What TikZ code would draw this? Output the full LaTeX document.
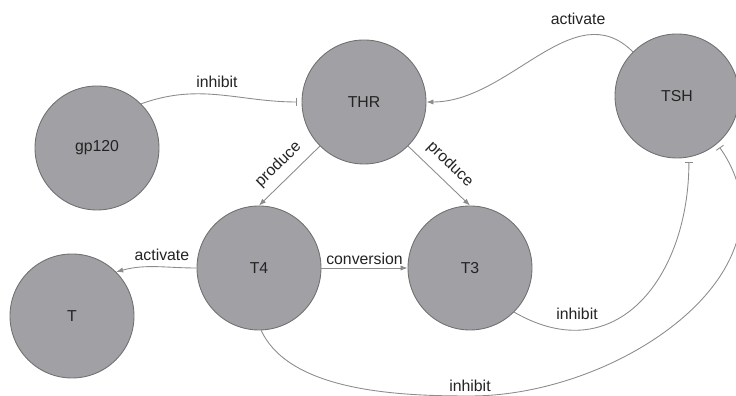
\documentclass[tikz,border=0pt]{standalone}
\usepackage{fontspec}
\setmainfont{Liberation Sans}
\usetikzlibrary{arrows.meta}
\definecolor{cellgray}{RGB}{161,161,165}
\definecolor{celledge}{RGB}{112,112,112}
\definecolor{linegray}{RGB}{140,140,140}
\definecolor{textdark}{RGB}{35,35,35}
\begin{document}
\begin{tikzpicture}[
  hormone/.style={circle,draw=celledge,line width=0.5pt,fill=cellgray,minimum size=2.48cm,inner sep=0pt,font=\fontsize{9}{11}\selectfont,text=textdark},
  lbl/.style={font=\fontsize{9}{11}\selectfont,text=textdark,inner sep=1.5pt},
  act/.style={draw=linegray,line width=0.5pt,-{Latex[length=4pt,width=3pt]}},
  inh/.style={draw=linegray,line width=0.5pt,-{Bar[width=5pt]},shorten >=2.5pt}
  ]
  \useasboundingbox (0,0) rectangle (14.72,7.92);

  % Hormones
  \node[hormone] (gp)  at (1.94,4.96) {gp120};
  \node[hormone] (thr) at (7.28,5.88) {THR};
  \node[hormone] (tsh) at (13.54,6.00) {TSH};
  \node[hormone] (t4)  at (5.18,2.56) {T4};
  \node[hormone] (t3)  at (9.40,2.56) {T3};
  \node[hormone] (t)   at (1.44,1.60) {T};
  \coordinate (low) at (9.40,0.0);

  % Links
  \draw[inh] (gp.45) to[out=20,in=180] node[lbl,above=2pt,pos=0.48] (l-inh1) {inhibit} (thr.180);
  \draw[act] (tsh.135) to[out=135,in=0] node[lbl,above=5pt,pos=0.3] (l-act1) {activate} (thr.0);
  \draw[act] (thr.225) -- node[lbl,above=3pt,sloped] (l-prod1) {produce} (t4.90);
  \draw[act] (thr.-45) -- node[lbl,above=3pt,sloped] (l-prod2) {produce} (t3.90);
  \draw[act] (t4.0) -- node[lbl,above] (l-conv) {conversion} (t3.180);
  \draw[act] (t4.180) to[out=180,in=15] node[lbl,above=2pt,pos=0.42] (l-act2) {activate} (t.45);
  \draw[inh] (t3.-45) to[out=-30,in=-90,looseness=1.3] node[lbl,above=4pt,pos=0.22] (l-inh2) {inhibit} (tsh.-79);
  \draw[inh] (t4.-88) to[out=-65,in=180,looseness=0.8] (low) node[lbl,above=1pt] (l-inh3) {inhibit}
    to[out=0,in=-55,looseness=1.1] (tsh.-50);

\end{tikzpicture}
\end{document}
